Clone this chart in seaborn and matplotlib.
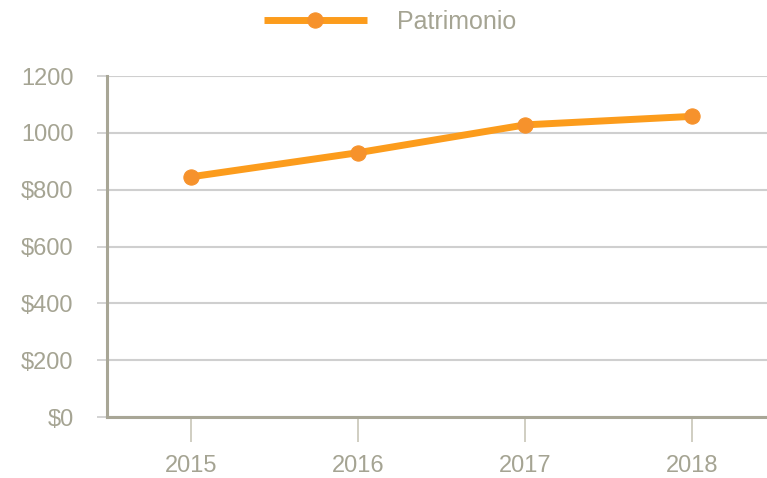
import matplotlib
matplotlib.use("Agg")
import matplotlib.pyplot as plt
import pandas as pd
import seaborn as sns

# data
years = ["2015", "2016", "2017", "2018"]
patrimonio = [845, 930, 1028, 1058]
y_ticks = [0, 200, 400, 600, 800, 1000, 1200]
y_tick_labels = ["$0", "$200", "$400", "$600", "$800", "1000", "1200"]

TEXT = "#a5a493"
SPINE = "#a8a696"
ORANGE = "#fc9c1c"
MARKER = "#f6922c"

sns.set_style("white")
plt.rcParams["font.family"] = ["Liberation Sans", "DejaVu Sans"]

df = pd.DataFrame({"year": years, "value": patrimonio})

fig = plt.figure(figsize=(7.67, 4.78), dpi=100)
ax = fig.add_axes([107 / 767, 61 / 478, (776 - 107) / 767, (417 - 76) / 478])

sns.lineplot(
    data=df, x="year", y="value", ax=ax,
    color=ORANGE, linewidth=5, marker="o", markersize=11,
    markerfacecolor=MARKER, markeredgecolor=MARKER,
    solid_capstyle="butt", label="Patrimonio",
)

ax.set_xlim(-0.5, 3.5)
ax.set_ylim(0, 1200)
ax.set_yticks(y_ticks)
ax.set_yticklabels(y_tick_labels)
ax.set_xlabel("")
ax.set_ylabel("")

ax.yaxis.grid(True, color="#cfcfcf", linewidth=1.5)
ax.xaxis.grid(False)
ax.set_axisbelow(True)

for side in ["top", "right"]:
    ax.spines[side].set_visible(False)
for side in ["left", "bottom"]:
    ax.spines[side].set_color(SPINE)
    ax.spines[side].set_linewidth(2.2)

ax.tick_params(axis="y", direction="out", length=7, width=1.2, color="#cccccc",
               pad=17, labelsize=17, labelcolor=TEXT, left=True)
ax.tick_params(axis="x", direction="out", length=18, width=1.2, color="#c8c6b8",
               pad=9, labelsize=17, labelcolor=TEXT, bottom=True)

leg = ax.legend(loc="center", bbox_to_anchor=(390 / 767, 1 - 22 / 478),
                bbox_transform=fig.transFigure, frameon=False, fontsize=18,
                handlelength=4.1, handletextpad=1.2)
for t in leg.get_texts():
    t.set_color(TEXT)

fig.savefig("out.png", dpi=100)
plt.close(fig)
